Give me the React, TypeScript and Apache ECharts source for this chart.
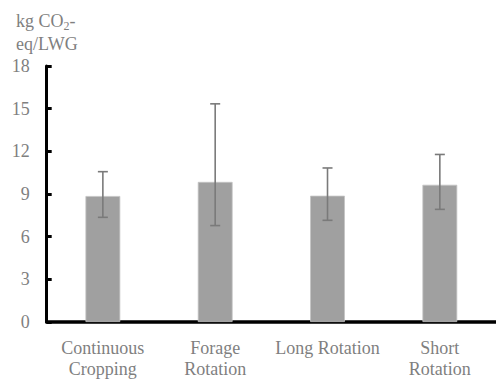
import React, { useEffect, useRef } from "react";
import * as echarts from "echarts";

const categories = ["Continuous\nCropping", "Forage\nRotation", "Long Rotation", "Short\nRotation"];
const means = [8.86, 9.85, 8.88, 9.65];
const errLow = [7.36, 6.78, 7.15, 7.92];
const errHigh = [10.57, 15.34, 10.83, 11.78];
const yTicks = { min: 0, max: 18, interval: 3 };

const FONT = "'Liberation Serif', 'Times New Roman', serif";
const TXT = "#7f7f7f";

export default function App() {
  const ref = useRef<HTMLDivElement>(null);
  useEffect(() => {
    if (!ref.current) return;
    const chart = echarts.init(ref.current, null, { renderer: "svg" });
    chart.setOption({
      animation: false,
      grid: { left: 46.7, right: -5.5, top: 66, bottom: 56.5, containLabel: false },
      title: {
        left: 11,
        top: 4,
        text: "{a|kg CO}{s|2}{a|-}\n{a|eq/LWG}",
        textStyle: {
          fontFamily: FONT,
          fontWeight: "normal",
          fontSize: 18,
          color: TXT,
          rich: {
            a: { fontFamily: FONT, fontWeight: "normal", fontSize: 18, color: TXT, lineHeight: 23 },
            s: { fontFamily: FONT, fontWeight: "normal", fontSize: 12, color: TXT, lineHeight: 23, padding: [10, 0, 0, 0] },
          },
        },
      },
      xAxis: {
        type: "category",
        data: categories,
        axisLine: { lineStyle: { color: "#000", width: 3.5 } },
        axisTick: { show: false },
        axisLabel: { color: TXT, fontFamily: FONT, fontSize: 18, lineHeight: 21, margin: 15, interval: 0 },
      },
      yAxis: {
        type: "value",
        min: yTicks.min,
        max: yTicks.max,
        interval: yTicks.interval,
        splitLine: { show: false },
        axisLine: { show: true, lineStyle: { color: "#000", width: 3 } },
        axisTick: { show: true, inside: true, length: 5, lineStyle: { color: "#000", width: 3 } },
        axisLabel: { color: TXT, fontFamily: FONT, fontSize: 18, margin: 17 },
      },
      series: [
        {
          type: "bar",
          data: means,
          barWidth: "31%",
          itemStyle: { color: "#a0a0a0", borderColor: "#c4c4c4", borderWidth: 0.8 },
        },
        {
          type: "custom",
          data: means.map((_, i) => [i, errLow[i], errHigh[i]]),
          renderItem: (params: any, api: any) => {
            const x = api.value(0);
            const lo = api.coord([x, api.value(1)]);
            const hi = api.coord([x, api.value(2)]);
            const hw = 5;
            const style = { stroke: "#7a7a7a", lineWidth: 1.6 };
            return {
              type: "group",
              children: [
                { type: "line", shape: { x1: lo[0], y1: lo[1], x2: hi[0], y2: hi[1] }, style },
                { type: "line", shape: { x1: hi[0] - hw, y1: hi[1], x2: hi[0] + hw, y2: hi[1] }, style },
                { type: "line", shape: { x1: lo[0] - hw, y1: lo[1], x2: lo[0] + hw, y2: lo[1] }, style },
              ],
            };
          },
          z: 5,
        },
      ],
    });
    return () => chart.dispose();
  }, []);
  return <div ref={ref} style={{ width: 496, height: 379, position: "absolute", left: 0, top: 0 }} />;
}
